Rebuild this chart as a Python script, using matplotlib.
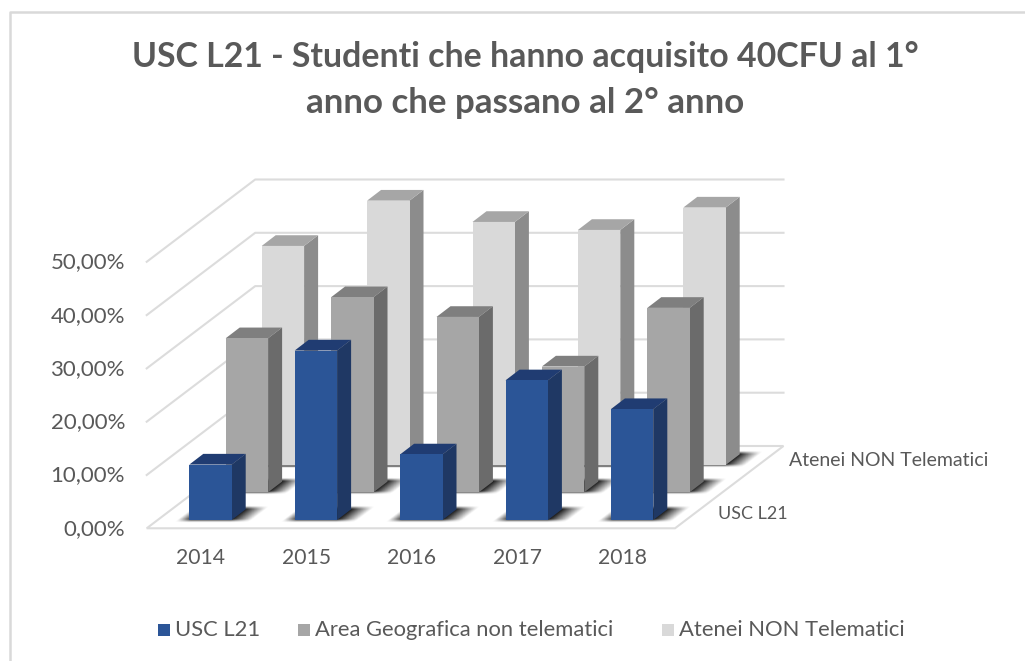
#!/usr/bin/env python
"""USC L21 - 3D style column chart, drawn by hand on a pixel-sized axes."""
import matplotlib
matplotlib.use('Agg')
import matplotlib.pyplot as plt
from matplotlib.patches import Polygon, Rectangle
import numpy as np

plt.rcParams.update({'font.family': 'Lato', 'figure.facecolor': 'white'})

# Data
years = ['2014', '2015', '2016', '2017', '2018']
usc_l21 = [10.4, 31.8, 12.3, 26.2, 20.8]
area_geo = [28.9, 36.6, 32.9, 23.6, 34.6]
atenei_non = [41.1, 49.6, 45.6, 44.1, 48.3]
y_ticks = [0, 10, 20, 30, 40, 50]
y_labels = ['0,00%', '10,00%', '20,00%', '30,00%', '40,00%', '50,00%']
legend_names = ['USC L21', 'Area Geografica non telematici', 'Atenei NON Telematici']

# Colors
INK = '#595959'
GRID = '#DCDCDC'
C_USC = ('#2B5597', '#1F3864', '#203C72')
C_AREA = ('#A6A6A6', '#6B6B6B', '#7F7F7F')
C_ATE = ('#D9D9D9', '#8C8C8C', '#A6A6A6')

# Oblique projection, in pixels
PX_PER_UNIT = 5.33
FLOOR_Y = 528.3
FLOOR_L, FLOOR_R = 146.7, 675.0
DEPTH_DX, DEPTH_DY = 108.5, -82.3
BAR_W = 42.4
BAR_DX, BAR_DY = 14.0, -10.7
STEP = 105.4

fig = plt.figure(figsize=(10.25, 6.61), dpi=100)
ax = fig.add_axes([0, 0, 1, 1])


def poly(pts, fc, ec='none', lw=0, z=2):
    ax.add_patch(Polygon(pts, closed=True, fc=fc, ec=ec, lw=lw, zorder=z))


def ramp(a):
    return np.clip(a, 0, 1)


def shadow(x, y, z):
    # blurred patch on the floor, faded in sheared floor coordinates
    x1, x2 = x - 16, x + BAR_W + BAR_DX + 24
    y1, y2 = y + BAR_DY - 5, y + 3
    px, py = np.meshgrid(np.linspace(x1, x2, 160), np.linspace(y1, y2, 50))
    t = (y - py) / -BAR_DY
    u = px - x - t * BAR_DX
    a = ramp((u + 12) / 14) * ramp((BAR_W + 20 - u) / 20) * ramp((t + 0.22) / 0.3) * ramp((1.3 - t) / 0.3)
    img = np.zeros(a.shape + (4,))
    img[..., :3] = 0.12
    img[..., 3] = a
    ax.imshow(img, extent=(x1, x2, y2, y1), aspect='auto', zorder=z, interpolation='bilinear')


def column(x, y, value, colors, z):
    h = value * PX_PER_UNIT
    front, side, top = colors
    shadow(x, y, z)
    poly([(x + BAR_W, y), (x + BAR_W + BAR_DX, y + BAR_DY),
          (x + BAR_W + BAR_DX, y + BAR_DY - h), (x + BAR_W, y - h)], fc=side, z=z + 0.1)
    poly([(x, y - h), (x + BAR_W, y - h),
          (x + BAR_W + BAR_DX, y + BAR_DY - h), (x + BAR_DX, y + BAR_DY - h)], fc=top, z=z + 0.1)
    ax.add_patch(Rectangle((x, y - h), BAR_W, h, fc=front, ec='none', zorder=z + 0.2))


# Frame
ax.plot([10, 10, 1025], [661, 12, 12], color='#D9D9D9', lw=1.8, zorder=0)

# Floor and walls
poly([(FLOOR_L, FLOOR_Y), (FLOOR_R, FLOOR_Y),
      (FLOOR_R + DEPTH_DX, FLOOR_Y + DEPTH_DY), (FLOOR_L + DEPTH_DX, FLOOR_Y + DEPTH_DY)],
     fc='white', ec=GRID, lw=1.5, z=1)
for v in y_ticks[1:]:
    yf = FLOOR_Y - v * PX_PER_UNIT
    ax.plot([FLOOR_L, FLOOR_L + DEPTH_DX, FLOOR_R + DEPTH_DX],
            [yf, yf + DEPTH_DY, yf + DEPTH_DY], color=GRID, lw=1.5, zorder=1)

# Columns, back row first
rows = [(atenei_non, C_ATE, 261.7, 465.0, 3), (area_geo, C_AREA, 225.7, 492.3, 5), (usc_l21, C_USC, 189.3, 520.0, 7)]
ax.plot([261.7, 261.7 + 4 * STEP], [465.5, 465.5], color='#9A9A9A', lw=1.0, zorder=2.5)
for vals, cols, x0, y0, z in rows:
    for i, v in enumerate(vals):
        column(x0 + i * STEP, y0, v, cols, z)

# Title
ax.text(525.5, 57, 'USC L21 - Studenti che hanno acquisito 40CFU al 1°', ha='center', va='center',
        fontsize=24.4, fontweight='bold', color=INK)
ax.text(525.5, 103, 'anno che passano al 2° anno', ha='center', va='center',
        fontsize=25.1, fontweight='bold', color=INK)

# Axis labels
for v, lab in zip(y_ticks, y_labels):
    ax.text(125, FLOOR_Y - v * PX_PER_UNIT + 0.5, lab, ha='right', va='center', fontsize=16, color=INK)
for i, yr in enumerate(years):
    ax.text(200.5 + i * 105.6, 558, yr, ha='center', va='center', fontsize=15.2, color=INK)
ax.text(789, 460, 'Atenei NON Telematici', ha='left', va='center', fontsize=14, color=INK)
ax.text(718, 514, 'USC L21', ha='left', va='center', fontsize=13, color=INK)

# Legend
for sq_x, name, cols in zip([158, 298, 662], legend_names, [C_USC, C_AREA, C_ATE]):
    ax.add_patch(Rectangle((sq_x, 624), 12, 12, fc=cols[0], ec='none', zorder=3))
    ax.text(sq_x + 17, 630, name, ha='left', va='center', fontsize=15.8, color=INK)

ax.set_xlim(0, 1025); ax.set_ylim(661, 0)
ax.axis('off')

fig.savefig('out.png', dpi=100)
plt.close()
